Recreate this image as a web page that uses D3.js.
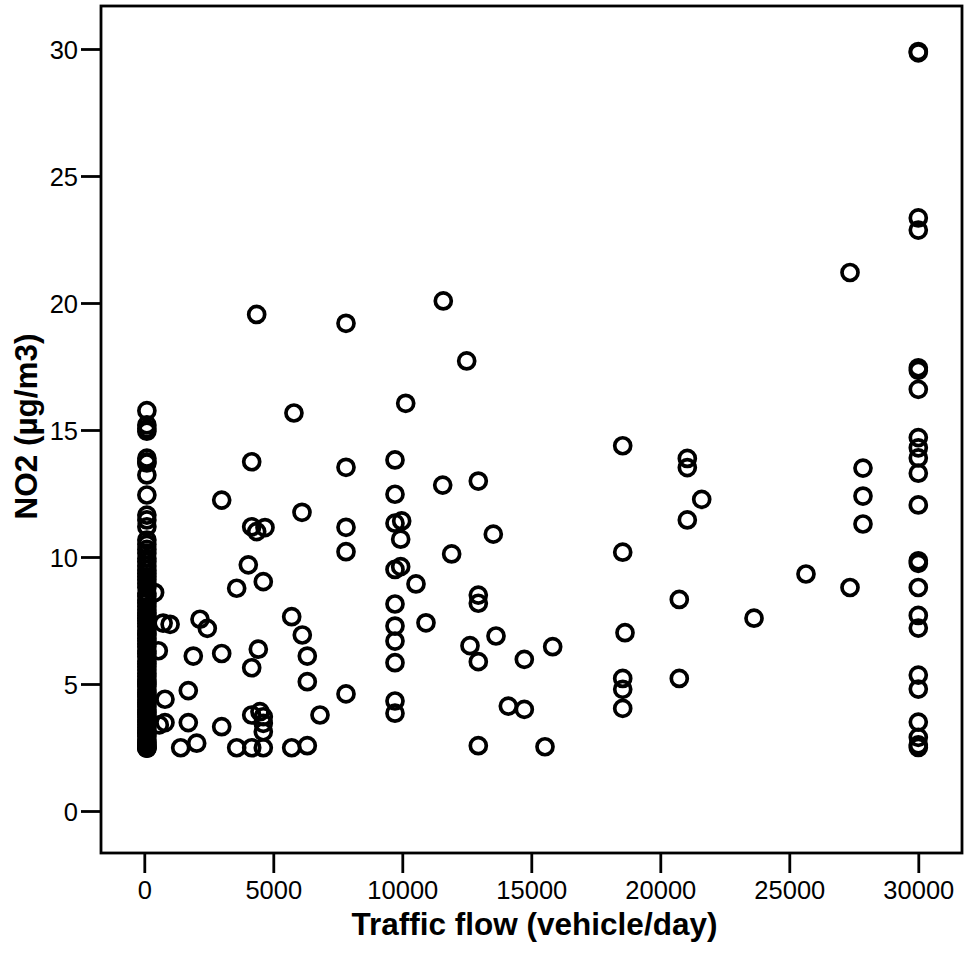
<!DOCTYPE html>
<html>
<head>
<meta charset="utf-8">
<script src="https://cdn.jsdelivr.net/npm/d3@7"></script>
<style>
  body { margin: 0; background: #fff; }
  svg { display: block; font-family: "Liberation Sans", Arial, sans-serif; }
</style>
</head>
<body>
<svg id="chart"></svg>
<script>
// NO2 at the sites with (almost) no traffic, plotted at ~100 vehicles/day
const lowFlow = 100;
const lowFlowNO2 = [15.76, 15.2, 15.05, 14.95, 13.89, 13.75, 13.7, 13.23, 12.44, 11.65, 11.46, 11.19,
  10.67, 10.5, 10.3, 10.15, 9.95, 9.81, 9.65, 9.49, 9.35, 9.22, 9.1, 8.97, 8.8, 8.57, 8.45, 8.3,
  8.2, 8.05, 7.91, 7.8, 7.7, 7.6, 7.5, 7.38, 7.26, 7.1, 7.0, 6.93, 6.8, 6.7, 6.58, 6.47, 6.3,
  6.2, 6.07, 5.9, 5.8, 5.68, 5.55, 5.42, 5.3, 5.16, 5.08, 5.0, 4.9, 4.76, 4.68, 4.6, 4.5, 4.37,
  4.28, 4.2, 4.1, 3.98, 3.88, 3.8, 3.7, 3.58, 3.5, 3.4, 3.3, 3.19, 3.1, 3.05, 2.93, 2.8, 2.72,
  2.67, 2.6, 2.55, 2.5, 2.47, 2.47];

// the busiest roads, capped at 30000 vehicles/day
const highFlow = 30000;
const highFlowNO2 = [29.9, 29.85, 23.35, 22.87, 17.45, 17.35, 16.6, 14.7, 14.3, 13.9, 13.3, 12.05,
  9.85, 9.75, 8.8, 7.7, 7.2, 5.35, 4.8, 3.5, 2.9, 2.6, 2.5];

// everything in between
const flow = [730, 1000, 543, 802, 802, 581, 400, 2159, 2442, 1899, 3000, 1705, 1705, 3000, 1411,
  2031, 3581, 4163, 4612, 5713, 4163, 4484, 4612, 4612, 4612, 4419, 4163, 4031, 3581, 4612,
  4163, 4356, 4678, 3000, 4163,
  5800, 10132, 7818, 9717, 11566, 12946, 9717, 6112, 7818, 9717, 9976, 9937, 13527, 7818, 11913,
  9717, 9937, 10531, 12946, 12946, 9717, 5713, 10918, 9717, 6124, 9717, 13632, 12624, 15829,
  6318, 12946, 14729, 9717, 6318, 7818, 6810, 9717, 9717, 14109, 14729, 6318, 12946, 15531,
  4356, 7818, 11589, 12496,
  18543, 21047, 21047, 21605, 21047, 18543, 25647, 20736, 23632, 18632, 20736, 18543, 18543,
  18543, 27353, 27353, 27856, 27856, 27856];
const no2 = [7.4, 7.35, 6.31, 4.4, 3.48, 3.39, 8.6, 7.55, 7.19, 6.1, 6.2, 4.74, 3.48, 3.32, 2.49,
  2.67, 2.49, 2.49, 2.49, 2.49, 3.78, 3.91, 3.71, 3.45, 3.12, 6.37, 5.64, 9.69, 8.77, 9.03,
  11.19, 11.0, 11.16, 12.24, 13.75,
  15.67, 16.05, 13.53, 13.82, 12.83, 12.99, 12.47, 11.76, 11.17, 11.33, 11.42, 10.7, 10.9, 10.21,
  10.12, 9.51, 9.62, 8.94, 8.5, 8.18, 8.15, 7.65, 7.41, 7.28, 6.93, 6.69, 6.89, 6.51, 6.47,
  6.1, 5.88, 5.97, 5.84, 5.09, 4.61, 3.78, 4.33, 3.85, 4.13, 4.0, 2.57, 2.57, 2.53,
  19.55, 19.2, 20.08, 17.72,
  14.38, 13.88, 13.52, 12.27, 11.46, 10.19, 9.33, 8.33, 7.59, 7.02, 5.22, 5.22, 4.79,
  4.04, 21.2, 8.8, 13.5, 12.4, 11.3];

const xTicks = [0, 5000, 10000, 15000, 20000, 25000, 30000];
const yTicks = [0, 5, 10, 15, 20, 25, 30];

const width = 964, height = 956;
const frame = {left: 101, right: 962, top: 6, bottom: 853};

const points = []
  .concat(lowFlowNO2.map(v => ({flow: lowFlow, no2: v})))
  .concat(highFlowNO2.map(v => ({flow: highFlow, no2: v})))
  .concat(flow.map((f, i) => ({flow: f, no2: no2[i]})));

const svg = d3.select("#chart")
  .attr("width", width)
  .attr("height", height);

const x = d3.scaleLinear().domain([0, 30000]).range([144.3, 918.3]);
const y = d3.scaleLinear().domain([0, 30]).range([811, 49]);

/** Frame and axes
------------------------------------------------------------*/

svg.append("rect")
  .attr("x", frame.left)
  .attr("y", frame.top)
  .attr("width", frame.right - frame.left)
  .attr("height", frame.bottom - frame.top)
  .attr("fill", "none")
  .attr("stroke", "#000")
  .attr("stroke-width", 2.8);

const xAxis = svg.append("g")
  .attr("transform", `translate(0,${frame.bottom})`)
  .call(d3.axisBottom(x).tickValues(xTicks).tickSize(20).tickPadding(8).tickFormat(d3.format("d")));

const yAxis = svg.append("g")
  .attr("transform", `translate(${frame.left},0)`)
  .call(d3.axisLeft(y).tickValues(yTicks).tickSize(20).tickPadding(3).tickFormat(d3.format("d")));

[xAxis, yAxis].forEach(function (g) {
  g.select(".domain").remove();
  g.selectAll(".tick line").attr("stroke", "#000").attr("stroke-width", 2.8);
  g.selectAll(".tick text")
    .attr("fill", "#000")
    .attr("font-family", "'Liberation Sans', Arial, sans-serif")
    .attr("font-size", 25.5);
});

yAxis.selectAll(".tick text").attr("dy", "0.36em");

svg.append("text")
  .attr("x", (frame.left + frame.right) / 2 + 3)
  .attr("y", 935)
  .attr("text-anchor", "middle")
  .attr("font-size", 31.5)
  .attr("font-weight", "bold")
  .text("Traffic flow (vehicle/day)");

svg.append("text")
  .attr("transform", `translate(37,${(frame.top + frame.bottom) / 2 - 3}) rotate(-90)`)
  .attr("text-anchor", "middle")
  .attr("font-size", 31.5)
  .attr("font-weight", "bold")
  .text("NO2 (µg/m3)");

/** Points
------------------------------------------------------------*/

svg.append("g")
  .selectAll("circle")
  .data(points)
  .enter().append("circle")
  .attr("cx", d => x(d.flow))
  .attr("cy", d => y(d.no2))
  .attr("r", 8)
  .attr("fill", "none")
  .attr("stroke", "#000")
  .attr("stroke-width", 3.7);
</script>
</body>
</html>
